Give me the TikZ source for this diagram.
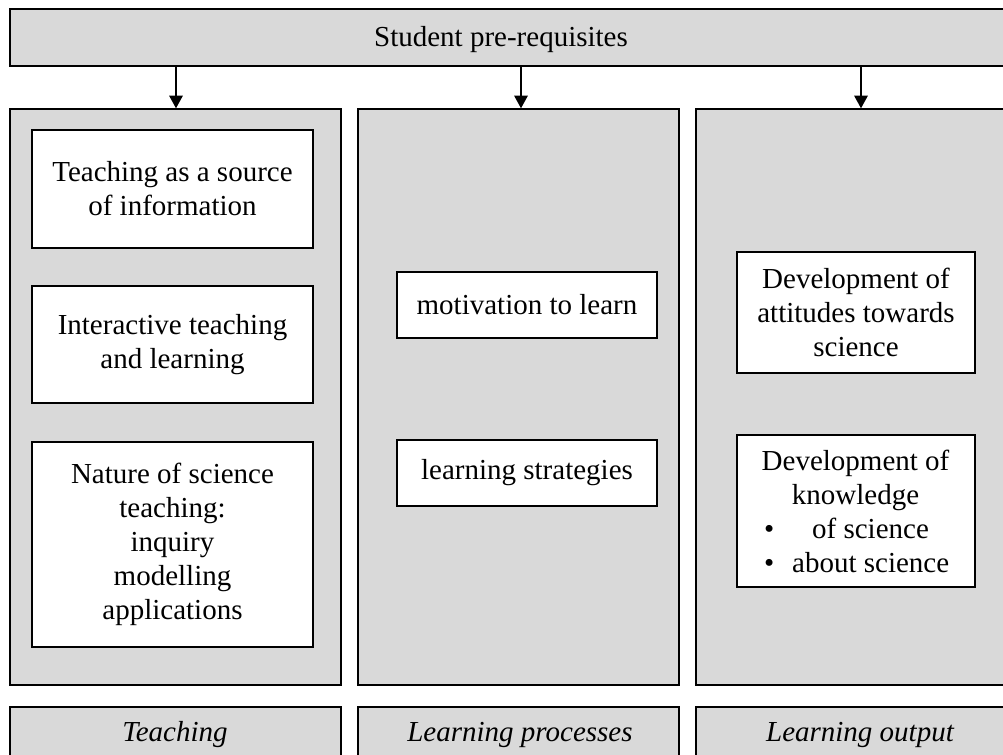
\documentclass[tikz,border=0pt]{standalone}
\usepackage{fontspec}
\setmainfont{Liberation Serif}
\usetikzlibrary{arrows.meta}
\definecolor{panelgrey}{HTML}{D9D9D9}
\begin{document}
\begin{tikzpicture}[x=0.75pt,y=-0.75pt,
  txt/.style={font=\fontsize{21.75pt}{25.5pt}\selectfont, align=center},
  captiontxt/.style={font=\fontsize{21.75pt}{25.5pt}\selectfont\itshape, align=center},
  panel/.style={draw=black, fill=panelgrey, line width=1.5pt},
  inbox/.style={draw=black, fill=white, line width=1.5pt, rectangle, inner sep=0pt},
  feed/.style={line width=1.5pt, -{Triangle[length=9.5pt,width=10pt]}, shorten >=0.5pt}
]
\useasboundingbox (0,0) rectangle (1003,755);

% header bar
\draw[panel] (10,9) rectangle (1015,66);
\node[txt] (pre) at (501,39.5) {Student pre-requisites};

% three column panels
\draw[panel] (10,109) rectangle (341,685);
\draw[panel] (358,109) rectangle (679,685);
\draw[panel] (696,109) rectangle (1015,685);
\coordinate (c1) at (176,109);
\coordinate (c2) at (521,109);
\coordinate (c3) at (861,109);
\coordinate (s1) at (176,66);
\coordinate (s2) at (521,66);
\coordinate (s3) at (861,66);
\draw[feed] (s1) -- (c1);
\draw[feed] (s2) -- (c2);
\draw[feed] (s3) -- (c3);

% teaching column
\node[inbox, txt, minimum width=281*0.75pt, minimum height=118*0.75pt] (t1) at (172.5,189)
  {Teaching as a source\\of information};
\node[inbox, txt, minimum width=281*0.75pt, minimum height=117*0.75pt] (t2) at (172.5,344.5)
  {Interactive teaching\\and learning};
\node[inbox, txt, minimum width=281*0.75pt, minimum height=205*0.75pt] (t3) at (172.5,544.5)
  {Nature of science\\teaching:\\inquiry\\modelling\\applications};

% learning processes column
\node[inbox, txt, minimum width=260*0.75pt, minimum height=66*0.75pt] (p1) at (527,305)
  {motivation to learn};
\node[inbox, txt, minimum width=260*0.75pt, minimum height=66*0.75pt] (p2) at (527,473)
  {learning strategies};

% learning output column
\node[inbox, txt, minimum width=238*0.75pt, minimum height=121*0.75pt] (o1) at (856,312.5)
  {Development of\\attitudes towards\\science};
\node[inbox, txt, minimum width=238*0.75pt, minimum height=152*0.75pt] (o2) at (855.5,511)
  {Development of\\knowledge\\\makebox[137pt][l]{\makebox[36pt][l]{\textbullet}of science}\\
   \makebox[137pt][l]{\makebox[21pt][l]{\textbullet}about science}};

% column captions
\draw[panel] (10,707) rectangle (341,770);
\draw[panel] (358,707) rectangle (679,770);
\draw[panel] (696,707) rectangle (1015,770);
\node[captiontxt] (l1) at (175,735) {Teaching};
\node[captiontxt] (l2) at (520,735) {Learning processes};
\node[captiontxt] (l3) at (860,735) {Learning output};
\end{tikzpicture}
\end{document}
